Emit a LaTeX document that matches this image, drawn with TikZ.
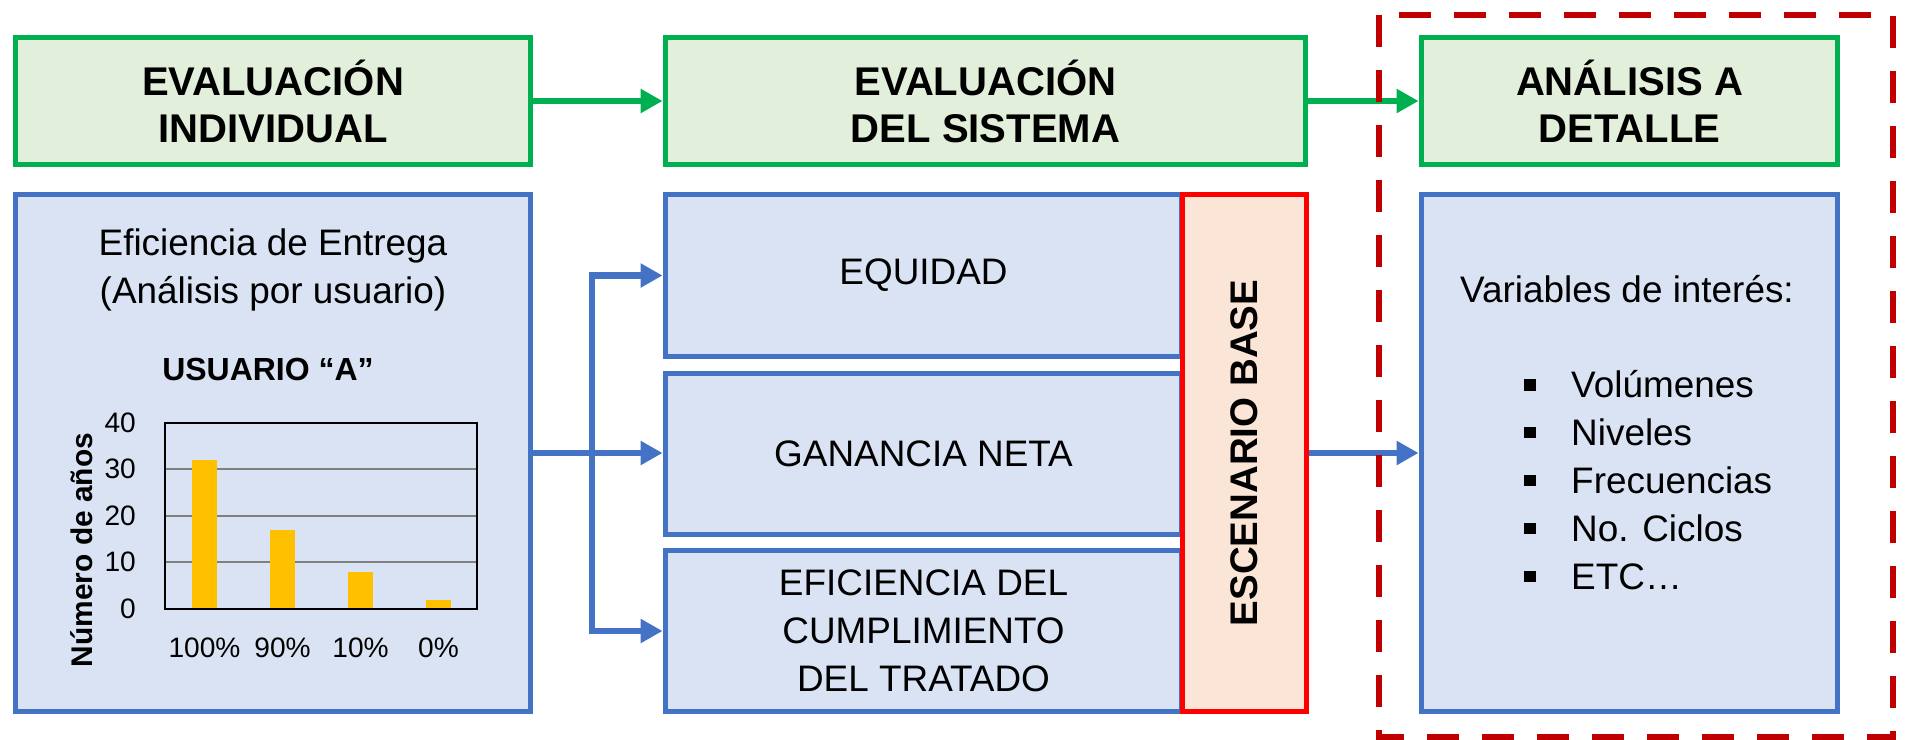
\documentclass[tikz,border=0pt]{standalone}
\usepackage{fontspec}
\setmainfont{Liberation Sans}
\usetikzlibrary{arrows.meta}
\definecolor{MXGreen}{HTML}{00B050}
\definecolor{MXGreenFill}{HTML}{E2EFDA}
\definecolor{MXBlue}{HTML}{4472C4}
\definecolor{MXBlueFill}{HTML}{DAE3F3}
\definecolor{MXRed}{HTML}{FF0000}
\definecolor{MXPeach}{HTML}{FBE5D6}
\definecolor{MXDarkRed}{HTML}{C00000}
\definecolor{MXBar}{HTML}{FFC000}
\newcommand{\titlefont}{\bfseries\fontsize{22.8}{26.7}\selectfont}
\newcommand{\bodyfont}{\fontsize{21}{27.3}\selectfont}
\newcommand{\chartfont}{\fontsize{16}{19}\selectfont}
\newcommand{\drawgreen}{\node[draw=MXGreen,fill=MXGreenFill,line width=0.1cm,minimum height=2.56cm,align=center,font=\titlefont]}
\newcommand{\drawblue}{\node[draw=MXBlue,fill=MXBlueFill,line width=0.1cm,align=center,font=\bodyfont]}
\newcommand{\sqbullet}{\rule[0.19em]{0.32em}{0.32em}\hspace{0.95em}}

\begin{document}
\begin{tikzpicture}[x=0.02cm,y=-0.02cm,
  greenarrow/.style={draw=MXGreen,line width=0.13cm,-{Triangle[length=0.44cm,width=0.46cm]}},
  bluearrow/.style={draw=MXBlue,line width=0.13cm,-{Triangle[length=0.44cm,width=0.46cm]}},
  bluesplit/.style={draw=MXBlue,line width=0.13cm,line join=miter,{Triangle[length=0.44cm,width=0.46cm]}-{Triangle[length=0.44cm,width=0.46cm]}}]
\fill[white] (0,0) rectangle (1906,740);
\useasboundingbox (0,0) rectangle (1906,740);
%headers
\drawgreen[minimum width=10.32cm] (indiv) at (273,101) {EVALUACIÓN\\INDIVIDUAL};
\drawgreen[minimum width=12.82cm] (sistema) at (985.5,101) {EVALUACIÓN\\DEL SISTEMA};
\drawgreen[minimum width=8.34cm] (detalle) at (1629.5,101) {ANÁLISIS A\\DETALLE};

%left column with the chart
\drawblue[minimum width=10.32cm,minimum height=10.36cm] (entrega) at (273,453) {};
\node[font=\bodyfont,align=center] (entregatxt) at (273,270) {Eficiencia de Entrega\\(Análisis por usuario)};
\node[font=\bfseries\fontsize{18.2}{22}\selectfont,anchor=base] (usuario) at (268,380) {USUARIO “A”};
\draw[gray,line width=0.04cm] (165,562) -- (477,562) (165,516) -- (477,516) (165,469) -- (477,469);
\fill[MXBar] (192,609) rectangle (217,460);
\fill[MXBar] (270,609) rectangle (295,530);
\fill[MXBar] (348,609) rectangle (373,572);
\fill[MXBar] (426,609) rectangle (451,600);
\draw[line width=0.04cm] (165,423) rectangle (477,609);
\node[anchor=east,font=\chartfont] (y0) at (142,609) {0};
\node[anchor=east,font=\chartfont] (y10) at (142,562) {10};
\node[anchor=east,font=\chartfont] (y20) at (142,516) {20};
\node[anchor=east,font=\chartfont] (y30) at (142,469) {30};
\node[anchor=east,font=\chartfont] (y40) at (142,423) {40};
\node[font=\chartfont] (x100) at (204.5,648) {100\%};
\node[font=\chartfont] (x90) at (282.5,648) {90\%};
\node[font=\chartfont] (x10) at (360.5,648) {10\%};
\node[font=\chartfont] (x0) at (438.5,648) {0\%};
\node[rotate=90,font=\bfseries\fontsize{17}{20}\selectfont] (ytitle) at (82,550) {Número de años};

%middle column
\drawblue[minimum width=10.34cm,minimum height=3.26cm] (equidad) at (923.5,275.5) {EQUIDAD};
\drawblue[minimum width=10.34cm,minimum height=3.24cm] (ganancia) at (923.5,454) {GANANCIA NETA};
\drawblue[minimum width=10.34cm,minimum height=3.24cm] (tratado) at (923.5,631) {EFICIENCIA DEL\\CUMPLIMIENTO\\DEL TRATADO};
\node[draw=MXRed,fill=MXPeach,line width=0.1cm,minimum width=2.48cm,minimum height=10.36cm] (base) at (1244,453) {};
\node[rotate=90,font=\bfseries\fontsize{21.9}{25}\selectfont] (basetxt) at (base.center) {ESCENARIO BASE};

%right column
\drawblue[minimum width=8.34cm,minimum height=10.36cm] (variables) at (1629.5,453) {};
\node[font=\bodyfont,anchor=base] (vartitle) at (1627,302) {Variables de interés:};
\node[font=\bodyfont,align=left,anchor=north west,inner sep=0] (varlist) at (1524,370) {\sqbullet Volúmenes\\\sqbullet Niveles\\\sqbullet Frecuencias\\\sqbullet No. Ciclos\\\sqbullet ETC…};

\draw[greenarrow] (indiv.east) -- (sistema.west);
\draw[greenarrow] (sistema.east) -- (detalle.west);
\coordinate (fork) at (592,454);
\draw[bluearrow] (entrega.east) -- (entrega.east -| ganancia.west);
\draw[bluesplit] (equidad.west) -| (fork) |- (tratado.west);
\draw[bluearrow] (base.east) -- (variables.west);

\draw[MXDarkRed,line width=0.12cm,dash pattern=on 0.64cm off 0.46cm] (1379,15) rectangle (1893,737);
\end{tikzpicture}
\end{document}
